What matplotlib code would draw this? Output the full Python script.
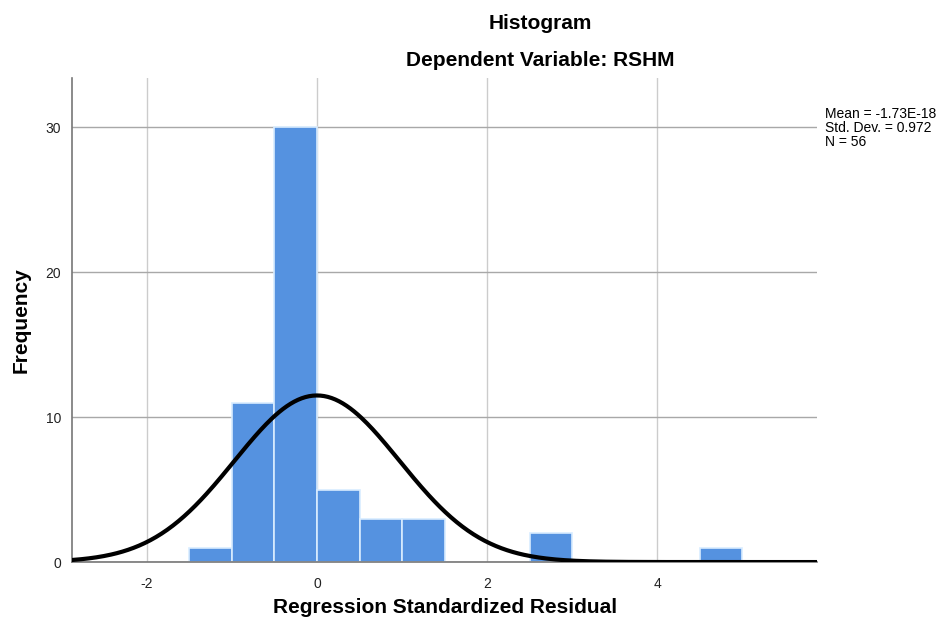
import numpy as np
import matplotlib.pyplot as plt

plt.rcParams['font.family'] = ['Liberation Sans', 'DejaVu Sans']
plt.rcParams['axes.unicode_minus'] = False

# histogram bins (regression standardized residual) and counts
bin_left = [-1.5, -1.0, -0.5, 0.0, 0.5, 1.0, 2.5, 4.5]
counts = [1, 11, 30, 5, 3, 3, 2, 1]
bin_width = 0.5

mean = -1.73e-18
std = 0.972
n = 56

fig = plt.figure(figsize=(9.39, 6.28), dpi=100)
ax = fig.add_axes([0.0767, 0.105, 0.7935, 0.771])

ax.bar(bin_left, counts, width=bin_width, align='edge', color='#5592e0',
       edgecolor='#d8ecff', linewidth=1.2, zorder=2)

# normal curve from the stats box
xs = np.linspace(-2.88, 5.88, 400)
ys = n * bin_width / (std * np.sqrt(2 * np.pi)) * np.exp(-0.5 * ((xs - mean) / std) ** 2)
ax.plot(xs, ys, color='black', lw=3, zorder=3, solid_capstyle='round')

ax.set_xlim(-2.88, 5.88)
ax.set_ylim(0, 33.4)
ax.set_xticks([-2, 0, 2, 4])
ax.set_yticks([0, 10, 20, 30])
ax.tick_params(axis='x', length=0, labelsize=10, colors='#222222', pad=11)
ax.tick_params(axis='y', length=0, labelsize=10, colors='#222222', pad=8)
ax.grid(axis='x', color='#cccccc', lw=1, zorder=0)
ax.grid(axis='y', color='#a8a8a8', lw=1, zorder=0)
for s in ['top', 'right']:
    ax.spines[s].set_visible(False)
ax.spines['left'].set_color('#777777')
ax.spines['bottom'].set_color('#777777')
ax.spines['left'].set_linewidth(1.2)
ax.spines['bottom'].set_linewidth(1.2)

ax.set_xlabel('Regression Standardized Residual', fontsize=15, fontweight='bold')
ax.xaxis.set_label_coords(0.5, -0.074)
ax.set_ylabel('Frequency', fontsize=15, fontweight='bold')
ax.yaxis.set_label_coords(-0.056, 0.5)

fig.text(0.575, 0.963, 'Histogram', ha='center', va='center', fontsize=15, fontweight='bold')
fig.text(0.575, 0.903, 'Dependent Variable: RSHM', ha='center', va='center', fontsize=15, fontweight='bold')

fig.text(0.879, 0.829, 'Mean = -1.73E-18\nStd. Dev. = 0.972\nN = 56',
         ha='left', va='top', fontsize=10, linespacing=1.0)

fig.savefig('out.png', dpi=100)
